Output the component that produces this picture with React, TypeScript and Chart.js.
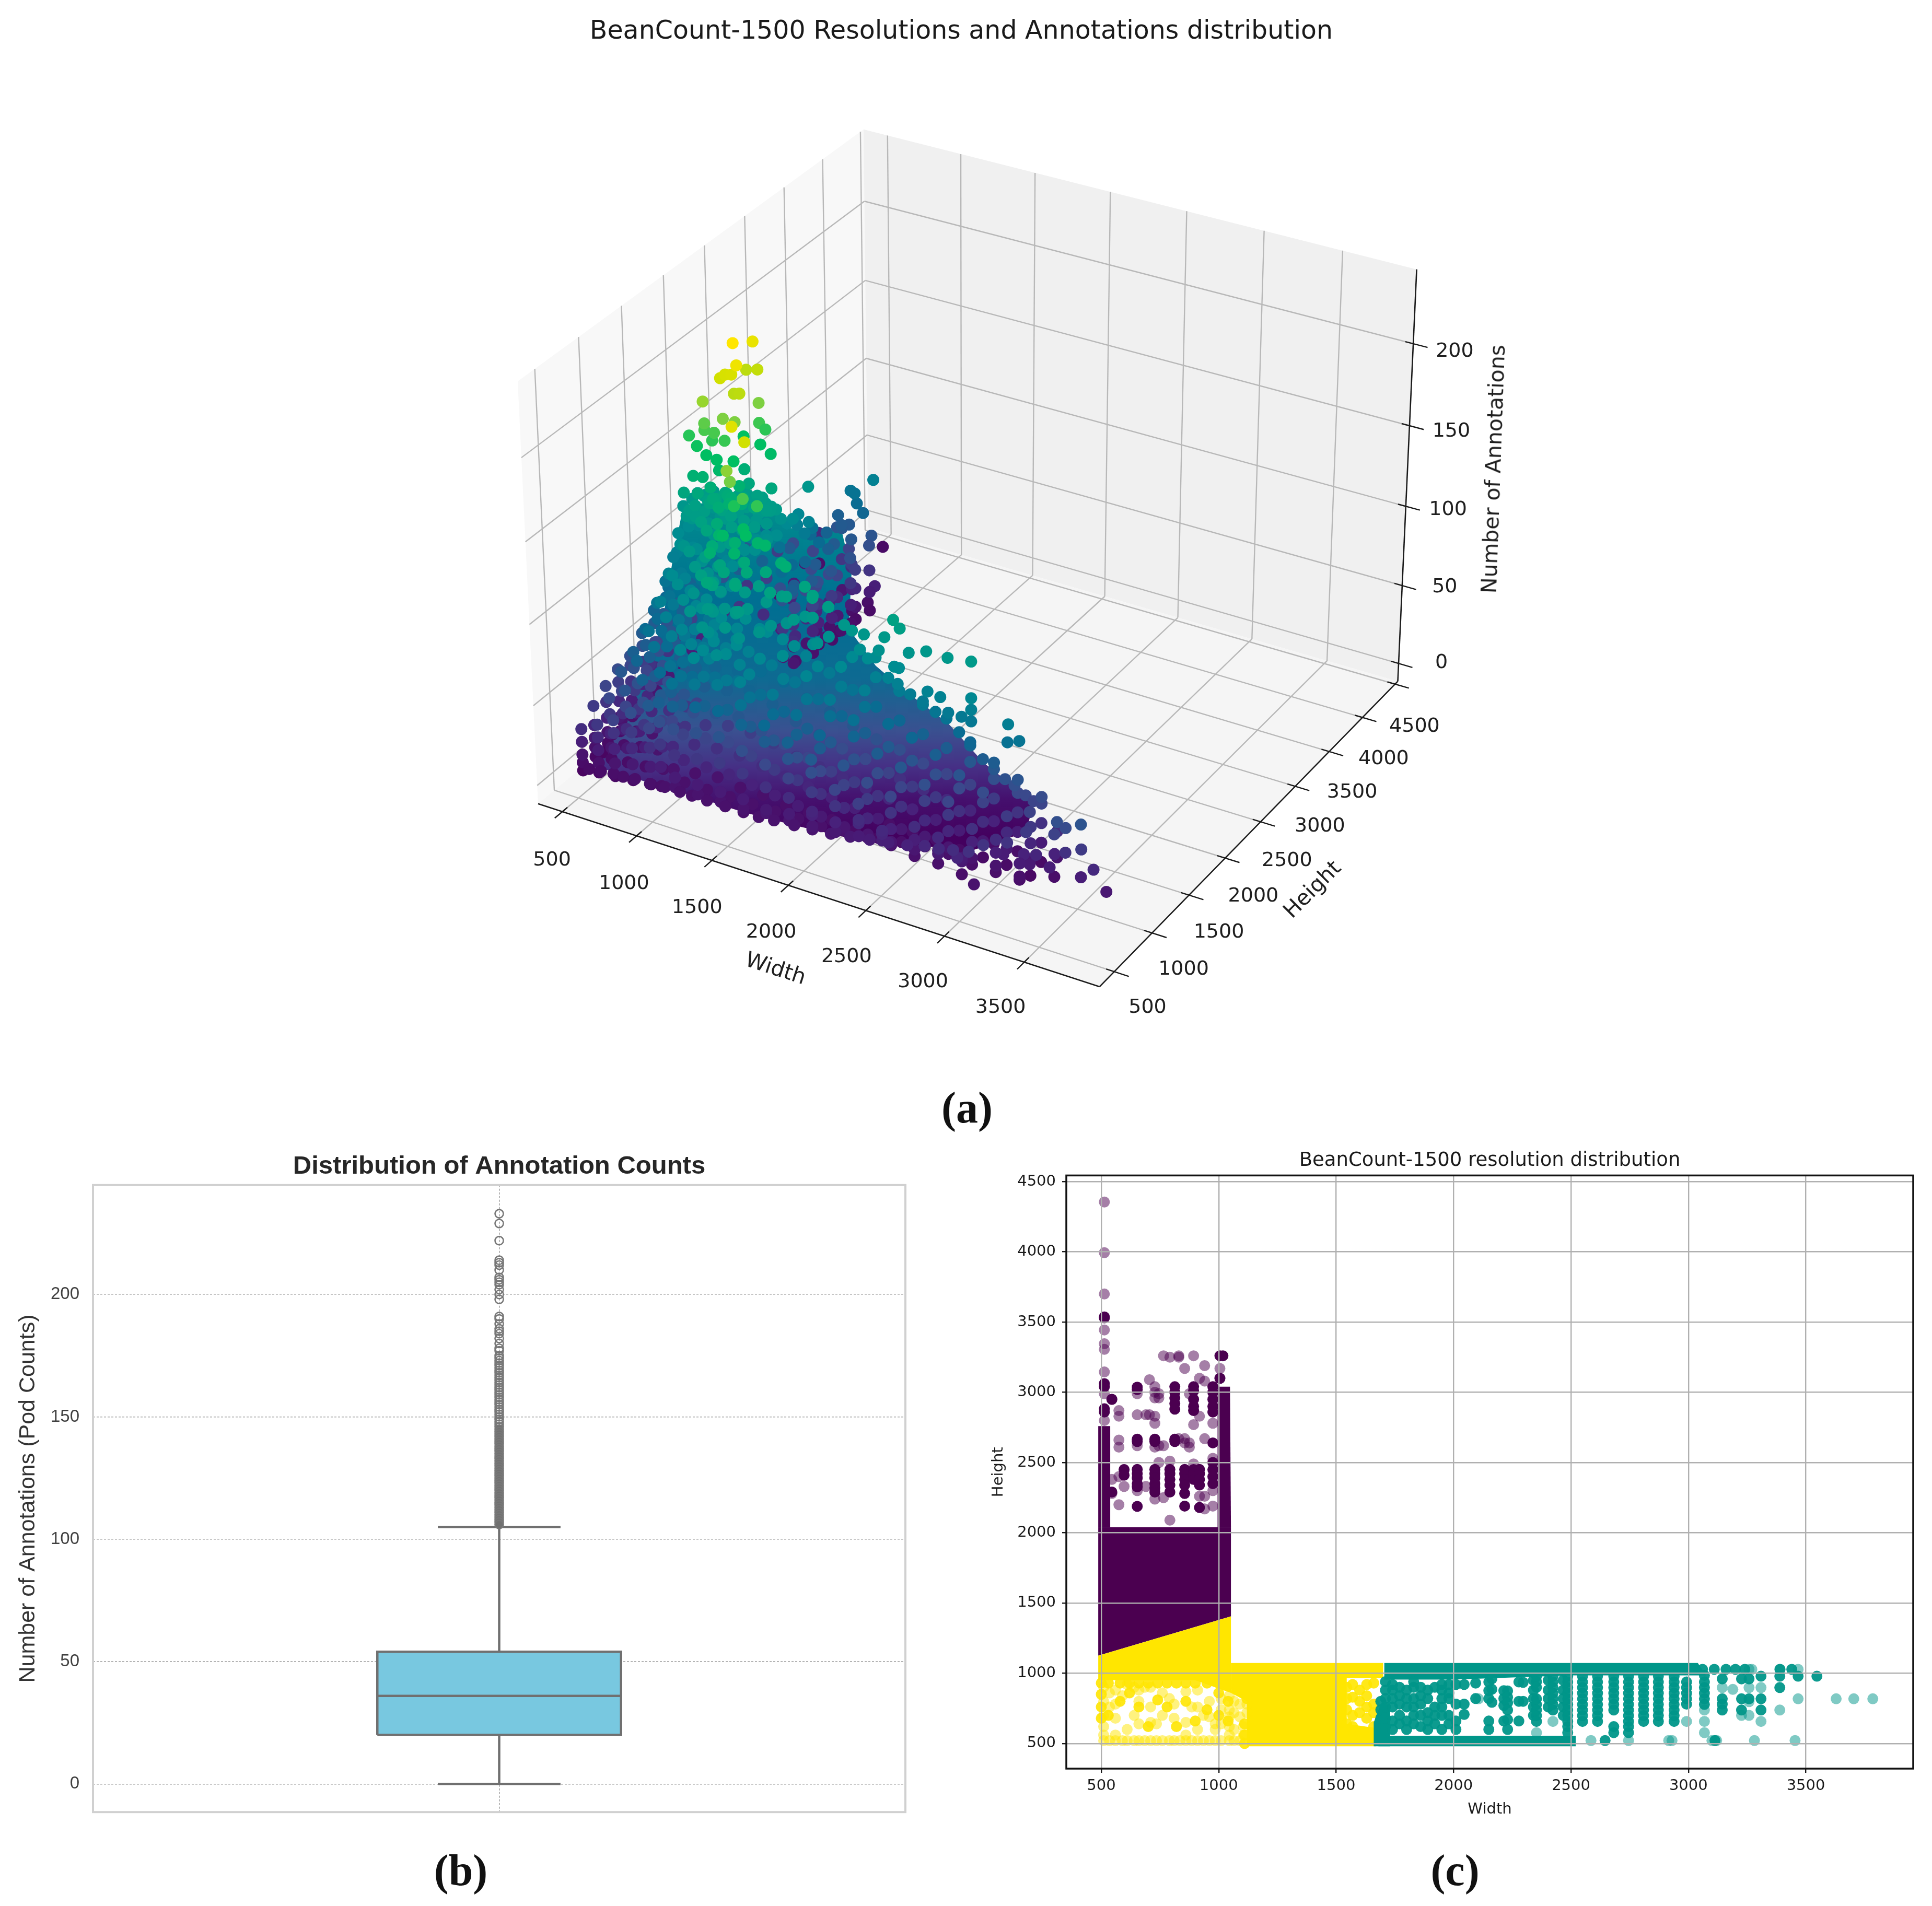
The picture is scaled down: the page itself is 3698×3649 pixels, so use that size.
import React, { useEffect, useRef } from "react";
import { Chart, registerables } from "chart.js";
Chart.register(...registerables);

// ---------- panel (a): tick values and axis limits ----------
const widthTicks = [500, 1000, 1500, 2000, 2500, 3000, 3500];
const heightTicks = [500, 1000, 1500, 2000, 2500, 3000, 3500, 4000, 4500];
const countTicks = [0, 50, 100, 150, 200];
const widthLimits = [335, 3965];
const heightLimits = [308, 4542];
const countLimits = [-11.6, 244.6];

// [width, height, annotation counts...]
const pileLeftWing = [
  [510,550,4,9,14,22,30],[510,700,6,12,18,26,38],[510,850,8,15,24,34,44],[510,1000,9,18,28,40,48],
  [510,1150,12,22,34,44,50],[510,1300,14,26,40,50,58],[510,1450,15,30,46,58,66],[510,1600,18,34,52,68,78],
  [510,1750,20,38,58,76,90],[510,1900,22,42,64,84,100],[510,2020,24,46,70,96,116],
  [510,2300,30,52,76],[510,2600,34,58,86],[510,3000,12,40],[510,3350,18],[510,3540,10,30],
  [620,550,6,12,20,28,36],[620,700,8,15,24,36,46],[620,850,10,20,30,44,56],[620,1000,12,24,38,52,62],
  [620,1150,28,44,60,70],[620,1300,32,50,70,80],[620,1450,56,78,92],[620,1600,62,86,104],
  [620,1750,70,96,114],[620,1900,76,104,122],[620,2020,80,110,120],[620,2300,36,60],[620,2650,40,72],[620,3000,22,48],
  [730,550,7,15,24,34,42],[730,700,9,18,30,44,54],[730,850,12,22,36,52,66],[730,1000,14,28,44,62,78],
  [730,1150,50,72,90],[730,1300,58,82,100],[730,1450,66,92,112],[730,1600,74,104,124],
  [730,1750,82,114,128],[730,1900,90,112,124],[730,2020,92,118],[730,2400,30,64],[730,2750,26,58],[730,3050,20,44],
  [850,550,8,18,28,38,50],[850,700,10,22,36,50,64],[850,850,14,28,44,60,78],[850,1000,32,50,72,90],
  [850,1150,58,82,104],[850,1300,68,94,118],[850,1450,78,106,130],[850,1600,88,116,138],
  [850,1750,94,120,136],[850,1900,98,118,128],[850,2020,100,124],[850,2400,24,50,76],[850,2800,20,46,68],[850,3200,16,36,58],
  [970,550,9,20,32,44,58],[970,700,12,26,42,58,72],[970,850,32,50,70,88],[970,1000,38,60,82,104],
  [970,1150,70,94,118],[970,1300,80,108,134],[970,1450,90,118,142],[970,1600,100,124,142],
  [970,1750,104,122,136],[970,1900,104,116,126],[970,2020,102,122],
  [970,2200,18,36,54,72],[970,2500,14,30,48,66],[970,2800,12,28,46,62],[970,3100,10,24,40,56],
  [1040,550,10,22,36,50,62],[1040,700,14,28,44,62,78],[1040,850,34,54,74,94],[1040,1000,42,64,88,110],
  [1040,1150,74,100,126],[1040,1300,86,114,140],[1040,1450,96,122,146],[1040,1600,104,124,140],
  [1040,1750,106,120,132],[1040,1900,106,116,124],[1040,2020,104,120],
  [1040,2200,16,30,44,62],[1040,2450,12,26,42,58],[1040,2700,10,24,38,54],[1040,2950,10,22,36,52],[1040,3200,8,20,34,50],
  [1000,2300,12,28,46,60],[1000,2600,10,24,36,50],[1000,2850,8,18,30,44],[1020,3050,8,16,28,40],[960,2350,18,32,52,70],[960,2650,16,28,44,58],
];
const pileRightWing = [
  [1150,1040,66,92,118,140],[1300,1040,68,94,120,146,168],[1450,1040,72,98,124,150,172],[1600,1040,70,96,122,142],
  [1750,1040,64,90,114,132],[1900,1040,60,84,106,124],[2050,1040,56,78,98,114],[2200,1040,52,72,90,102],
  [2350,1040,32,50,68,86],[2500,1040,30,46,64,82],[2650,1040,28,44,60,78],[2800,1040,26,42,56,68],
  [2950,1040,10,24,38,50,60],[3100,1040,10,22,34,46,54],[3250,1040,8,20,32,44,48],[3350,1040,14,30],
  [1150,900,36,60,84,108,128],[1300,900,40,62,88,112,134,156],[1450,900,40,66,90,116,138,160],[1600,900,38,62,86,110,130],
  [1750,900,34,56,80,102,118],[1900,900,32,52,74,94,108],[2050,900,30,48,68,86,98],[2200,900,28,46,62,78,88],
  [2350,900,10,26,42,58,72],[2500,900,10,24,38,54,68],[2650,900,10,22,36,50,62],[2800,900,8,20,32,46,54],
  [2950,900,8,18,30,42,48],[3100,900,8,18,28,38],[3250,900,6,16,26,36],[3400,900,10,24],
  [1150,760,12,30,50,72,92,112],[1300,760,14,32,54,76,98,116,132],[1450,760,12,32,56,78,100,120,136],[1600,760,12,30,52,74,96,112],
  [1750,760,10,28,48,68,88,102],[1900,760,10,26,44,62,80,94],[2050,760,10,24,40,58,74,84],[2200,760,8,22,38,52,66,76],
  [2350,760,8,20,34,48,60],[2500,760,10,18,32,44,56],[2650,760,12,18,28,40,50],[2800,760,12,16,26,36,44],
  [2950,760,10,14,24,32],[3100,760,10,14,22,30],[3250,760,10,12,20],
  [1150,630,12,26,42,60,78,94],[1300,630,12,26,44,64,82,98,112],[1450,630,12,26,46,66,84,100,116],[1600,630,12,24,42,60,78,92],
  [1750,630,12,22,38,56,72,84],[1900,630,12,20,36,50,64,76],[2050,630,12,18,32,46,60,68],[2200,630,14,16,28,42,54],
  [2350,630,14,16,26,38,48],[2500,630,16,14,24,34,44],[2650,630,16,12,22,30],[2800,630,18,12,20,28],[2950,630,20,10,18],
  [1150,520,14,20,34,50,64,78],[1300,520,14,20,36,52,68,82,98],[1450,520,14,20,38,54,70,86,104],[1600,520,14,20,36,50,66,78,92],
  [1750,520,16,18,32,46,60,70],[1900,520,16,20,30,42,54,64],[2050,520,17,24,26,38,50,58],[2200,520,18,24,34,44],
  [2350,520,20,28,30,40],[2500,520,22,28,26],
  [1220,1000,100,116,132,150],[1380,1000,104,120,138,158,176],[1520,1000,100,118,136,152],[1240,850,96,112,128,146],[1400,850,98,114,132,150],
  [1300,700,90,106,120,136],[1500,700,92,108,124],[1660,980,110,126,144],[1830,980,102,118,130],
];
// single marks around the pile: spire, back spur, right-hand strays
const pileStrays = [
  [980,1650,233],[946,1950,222],[891,1650,210],[924,1650,213],[966,1650,214],[980,1650,203],[1016,1650,204],[771,1650,193],
  [777,1650,180],[902,1650,186],[980,1650,186],[673,1650,170],[777,1650,176],[841,1650,176],[724,1650,165],[827,1650,171],
  [910,1650,173],[785,1650,161],[854,1650,160],[966,1650,162],[693,1650,146],[757,1650,147],[868,1650,154],[807,1650,142],[626,1650,134],
  [899,1950,204],[974,1950,206],[977,1950,186],[977,1950,174],[1018,1950,171],[871,1950,163],[982,1950,161],[1050,1950,157],
  [871,1950,143],[899,1950,135],[954,1950,129],[1050,1950,136],[1050,1560,225],[1400,1000,210],[1320,1000,217],[1300,1000,184],[1280,1000,190],
  [800,1650,132],[840,1650,136],[880,1650,130],[920,1650,140],[940,1650,128],[760,1650,126],[700,1650,128],[720,1650,136],[660,1650,124],[640,1650,120],
  [1000,1650,148],[1020,1650,140],[880,1950,120],[960,1950,118],[1040,1950,122],
  [1048,3250,90],[891,3250,79],[919,3250,78],[933,3250,72],[975,3250,67],[1031,3250,54],[720,4000,8],[1050,3250,22],[1000,3250,10],
  [802,3250,61],[794,3250,53],[878,3250,57],[1000,2500,114],[1000,2500,92],[930,2500,95],
  [2325,1020,129],[2366,1020,125],[2137,1020,115],[2268,1020,117],[2231,1020,108],[2422,1020,112],[2533,1020,116],[2668,1020,116],
  [2816,1020,118],[2329,1020,101],[2359,1020,101],[2540,1020,92],[2621,1020,91],[2816,1020,96],[2816,1020,89],[2816,1020,82],
  [2755,1020,83],[2671,1020,83],[3048,1020,87],[3044,1020,76],[3118,1020,79],
  [3461,800,50],[3609,800,53],[3515,800,48],[3445,800,42],[3613,800,38],[3515,800,33],[3418,800,21],[3293,800,19],[3690,800,28],
  [3613,800,21],[3771,800,17],[3081,520,13],[2977,520,26],[3128,800,20],[3256,800,24],[3333,800,26],
];
// marks that run along the rim of the dense body
const pileRim = [
  [500,800,4],[500,920,10],[500,1040,14],[500,1170,20],[500,1290,26],[500,1400,34],[500,1490,44],[500,1580,58],[500,1650,72],[500,1720,88],[500,1790,100],[500,1860,114],
  [540,1900,118],[600,1950,120],[660,2000,118],[720,2000,122],[780,2000,120],[840,2000,126],[900,2000,122],[960,2000,126],[1020,2000,122],
  [1000,2150,108],[960,2300,98],[1000,2300,102],[920,2500,88],[970,2500,84],[917,2700,78],[960,2700,70],[880,2950,64],[930,2950,58],[853,3200,56],[900,3200,44],[890,3250,30],
  [1020,2500,40],[1040,2700,24],[1050,2800,12],[1050,2600,16],[1800,1040,128],[1900,1040,124],[2000,1040,116],
  [2100,1040,104],[2150,1040,100],[2280,1040,92],[2340,1040,90],[2420,1040,86],[2500,1040,84],[2580,1040,80],[2730,1040,72],[2800,1040,66],[2880,1040,60],[2950,1040,56],[3020,1040,52],[3080,1040,50],[3150,1040,46],[3200,1040,44],[3220,950,42],
  [3270,800,38],[3200,700,34],[3100,600,34],[3048,520,32],[2950,520,30],[2860,520,28],[2770,520,27],[2660,520,24],[2540,520,22],[2420,520,20],[2295,520,18],[2170,520,16],[2050,520,15],[1932,520,14],[1800,520,13],[1700,520,12],[1600,520,12],[1480,520,12],[1360,520,12],[1260,520,12],[1180,520,12],[1080,520,12],[980,520,11],[880,520,11],[800,520,10],[735,520,10],[650,520,9],[570,520,8],
];
// outline of the dense body of the pile: width, height, count
const pileOutline = [
  [500,700,0],[500,920,8],[500,1170,18],[500,1400,33],[500,1580,57],[500,1720,88],[500,1860,114],[660,2000,116],[994,2000,124],
  [950,2300,95],[917,2700,77],[853,3200,54],[890,3250,26],[1050,2900,9],[2200,1040,97],[2390,1040,87],[2665,1040,75],[2885,1040,58],
  [3080,1040,49],[3200,1040,43],[3270,800,38],[3048,520,32],[2770,520,27],[2295,520,17],[1932,520,14],[1600,520,12],[1180,520,12],[735,520,11],
];

// ---------- panel (b): box plot values ----------
const boxQuartiles = [20, 36, 54];
const boxWhiskers = [0, 105];
const boxFliers = [233,229,222,214,213,212,210,207,206,205,204,202,200,198,191,190,188,186,185,184,182,180,178,177,175,174,173,172,171,170,169,168,167,166,165,164,163,162,161,160,159,158,157,156,155,154,153,152,151,150,149,148,147,146,145,144,143,142,141,140,139,138,137,136,135,134,133,132,131,130,129,128,127,126,125,124,123,122,121,120,119,118,117,116,115,114,113,112,111,110,109,108,107,106];
const boxTicks = [0, 50, 100, 150, 200];

// ---------- panel (c): resolution scatter, [width, heights...] ----------
const scatterXTicks = [500, 1000, 1500, 2000, 2500, 3000, 3500];
const scatterYTicks = [500, 1000, 1500, 2000, 2500, 3000, 3500, 4000, 4500];
const purpleLight = [
  [513,4355,3994,3700,3444,3346,3306,3145,2990,2800],
  [545,2950,2380,2280],
  [575,2870,2830,2660,2610,2400,2200],
  [597,2450,2330],
  [653,2990,2840,2620,2300],
  [690,2840,2330],
  [705,3090,2840],
  [728,3040,3000,2960,2830,2780,2610,2240],
  [745,2990,2960,2620,2500],
  [765,3260,2620,2250],
  [792,3250,2510,2090],
  [830,3250,3260,2670],
  [855,3170,2670,2640],
  [875,2990,2640,2610],
  [893,3260,2770,2490],
  [918,3100,2830,2260],
  [940,3190,3080,2670,2260,2170],
  [975,2780,2530,2300,2190],
  [1005,3170,3100],
];
const purpleDark = [
  [513,3537,3530,3062,3040,2883,2860],
  [545,2950,2290],
  [597,2450,2410],
  [653,3037,3020,2667,2650,2451,2420,2390,2350,2327,2188],
  [728,2667,2650,2451,2420,2390,2350,2320,2290],
  [792,2451,2420,2380,2340,2290],
  [813,3040,3000,2960,2920,2880,2667,2650],
  [855,2451,2420,2380,2340,2280,2190],
  [893,3040,3010,2950,2900,2870,2450,2420,2380],
  [918,2451,2420,2380,2340,2180],
  [975,3040,3000,2950,2900,2860,2640,2500,2450,2400,2350],
  [1005,3260,3100],
  [1018,3260],
];
const yellowLight = [
  [510,900,800,700,620,560,520],[535,860,760,520],[560,880,780,680,560,520],[590,840,520],[610,920,600,520],[640,900,700,520],
  [660,880,800,640,520],[685,900,520],[710,900,760,650,520],[735,640,520],[760,860,700,520],[790,820,520],[810,780,680,520],[835,520],
  [860,870,650,560,520],[885,760,520],[910,880,760,600,520],[935,700,520],[960,800,690,520],[985,640,600,520],[1010,820,740,640,520],
  [1045,840,740,690,620,560,520],[1065,800,720,600,520],[1090,780,690,520],[1105,620,560],[1120,780,720],
];
const yellowStrong = [
  [500,930,850,760,680],[530,930,700],[580,930,800],[620,930,860],[660,930,760],[700,930,620],[740,930,810],[780,930,760],[820,930,620],[860,930,800],
  [900,930,660],[950,930,740],[1000,930,860,700],[1040,920,800,660],[1110,640,560,500],[1120,820],
  [1545,900,820,740,640],[1570,920,830,700,620],[1600,880,800,720],[1630,920,840,760,680],[1660,930,780,720,620],
];
const tealDense = [
  [1690,620,680,740,800],[1710,620,680,760,820,880,940],[1740,600,660,760,820,880,920],[1770,640,700,780,840,900],[1800,600,660,760,820,880],
  [1830,640,700,760,820,900,940],[1860,620,700,780,840,900],[1890,600,660,720,820,880],[1920,640,700,760,900],[1950,600,700,760,820,880,920],
  [1980,640,700,820,860,920],[2010,600,660,780,920],[2045,707,780,920],[2094,820,930],
  [2150,938,876,820,660,600],[2163,960,886,793],[2214,876,820,770,660],[2230,874,830,790,738,670,600],[2278,938,800,660],
  [2296,935,800],[2340,950,880,820,760,700],[2353,979,940,900,818,778,738,698,657],[2403,950,880,820,760],
  [2423,979,938,898,858,818,778,738],[2467,950,880,820,760,700],[2486,979,938,898,858,818,778,738,698,657,620,577],
  [2549,979,938,898,858,818,778,738,698,657],[2613,979,938,898,858,818,778,738,698,657],[2682,979,938,898,858,818,778,738,620,577],
  [2745,979,938,898,858,818,778,738,698,657,620,577],[2809,979,938,898,858,818,778,738,698,657],[2872,979,938,898,858,818,778,738,698,657],
  [2939,979,938,898,858,818,778,738,698,657],[2992,938,898,858,818,780],[3068,985,938,898,858,818,778],
  [3144,960,818,780,738],[3226,960,818,738],[3258,960,818],[3309,979,818,738],[3389,979,898],[3467,979],[3547,979],
  [2645,521],[3113,521],[3060,1028],[3110,1028],[3160,1028],[3200,1028],[3240,1028],[3390,1028],[3440,1028],
];
const tealLight = [
  [2106,818],[2353,577],[2423,657],[2745,521],[2992,657],[3068,738,657,577],[3144,898],[3189,885],[3226,700],[3258,1028,898,798,700],
  [3309,898,657],[3389,1028,738],[3467,1028,818],[3629,818],[3704,818],[3785,818],[2585,521],[2916,521],[2930,521],[3100,521],[3120,521],[3281,521],[3454,521],[3270,1028],
];
const purpleBlock = [[487,1125],[487,2040],[1052,2040],[1052,1405]];
const purpleLeftColumn = [[487,2040],[487,2760],[538,2760],[538,2040]];
const purpleRightColumn = [[995,2040],[995,3040],[1048,3040],[1052,2040]];
const yellowWedge = [[487,1125],[1052,1405],[1052,860],[900,950],[487,950]];
const yellowBlock = [[1052,1073],[1700,1073],[1700,965],[1545,965],[1545,640],[1670,610],[1670,480],[1120,480],[1120,800],[1052,860]];
const tealTopBand = [[1705,1073],[3040,1073],[3075,985],[2500,985],[2000,955],[1705,955]];
const tealBottomBand = [[1680,555],[2520,555],[2520,480],[1680,480]];
const tealLeftBlock = [[1660,480],[1660,650],[1690,780],[1730,780],[1730,480]];

// ---------- palette of the picture ----------
const paletteStops: [number, string][] = [
  [0, "#4a005c"], [0.1, "#48207a"], [0.2, "#3a4a8c"], [0.3, "#0a6a92"], [0.42, "#008a92"],
  [0.55, "#00a084"], [0.7, "#00c060"], [0.8, "#80d040"], [0.9, "#d0e000"], [1, "#ffe600"],
];
function hexRgb(h: string) {
  return [1, 3, 5].map((i) => parseInt(h.slice(i, i + 2), 16));
}
function colorOf(n: number) {
  const t = Math.max(0, Math.min(1, n / 233));
  for (let i = 1; i < paletteStops.length; i++) {
    if (t <= paletteStops[i][0]) {
      const [t0, c0] = paletteStops[i - 1];
      const [t1, c1] = paletteStops[i];
      const f = (t - t0) / (t1 - t0);
      const a = hexRgb(c0), b = hexRgb(c1);
      return `rgb(${a.map((v, k) => Math.round(v + (b[k] - v) * f)).join(",")})`;
    }
  }
  return paletteStops[paletteStops.length - 1][1];
}

// ---------- 3D view ----------
const boxSize = [1.19, 1.19, 0.893];
const camU = [0.866, 0.5, 0];
const camV = [-0.25, 0.433, 0.866];
const camW = [0.433, -0.75, 0.5];
function relative(w: number, h: number, n: number) {
  return [
    ((w - widthLimits[0]) / (widthLimits[1] - widthLimits[0]) - 0.5) * boxSize[0],
    ((h - heightLimits[0]) / (heightLimits[1] - heightLimits[0]) - 0.5) * boxSize[1],
    ((n - countLimits[0]) / (countLimits[1] - countLimits[0]) - 0.5) * boxSize[2],
  ];
}
const dot = (a: number[], b: number[]) => a[0] * b[0] + a[1] * b[1] + a[2] * b[2];
function project(w: number, h: number, n: number) {
  const d = relative(w, h, n);
  const depth = 10 - dot(d, camW);
  return { x: 1868 + (10410 * dot(d, camU)) / depth, y: 1029 - (10440 * dot(d, camV)) / depth };
}
const nearness = (w: number, h: number, n: number) => dot(relative(w, h, n), camW);

const [wA, wB] = widthLimits;
const [hA, hB] = heightLimits;
const [nA, nB] = countLimits;
const seg = (a: number[], b: number[]) => [project(a[0], a[1], a[2]), project(b[0], b[1], b[2])];
const lineDs = (data: any[], color: string, width: number) => ({
  data, showLine: true, borderColor: color, borderWidth: width, pointRadius: 0, clip: false as any, fill: false,
});
const paneDs = (c: number[][], color: string) => ({
  data: c.map((p) => project(p[0], p[1], p[2])), showLine: true, borderWidth: 0, pointRadius: 0,
  fill: "shape" as any, backgroundColor: color, clip: false as any,
});

function frame(color: string, width: number) {
  return {
    id: "frame",
    afterDraw(chart: any) {
      const { ctx, chartArea: a } = chart;
      ctx.save();
      ctx.strokeStyle = color;
      ctx.lineWidth = width;
      ctx.strokeRect(a.left, a.top, a.right - a.left, a.bottom - a.top);
      ctx.restore();
    },
  };
}

function buildPile() {
  const pts: { w: number; h: number; n: number }[] = [];
  for (const row of [...pileLeftWing, ...pileRightWing, ...pileStrays, ...pileRim]) {
    for (let i = 2; i < row.length; i++) pts.push({ w: row[0], h: row[1], n: row[i] });
  }
  pts.sort((a, b) => nearness(a.w, a.h, a.n) - nearness(b.w, b.h, b.n));
  return pts;
}

// Chart.js paints the first dataset last, so each list is given back to front and then reversed.
function makeA(cv: HTMLCanvasElement) {
  const ctx = cv.getContext("2d")!;
  const grad = ctx.createLinearGradient(0, 940, 0, 1640);
  grad.addColorStop(0, "#009a88");
  grad.addColorStop((1020 - 940) / 700, "#00848f");
  grad.addColorStop((1150 - 940) / 700, "#006f92");
  grad.addColorStop((1300 - 940) / 700, "#0e6a92");
  grad.addColorStop((1400 - 940) / 700, "#3a5090");
  grad.addColorStop((1470 - 940) / 700, "#462f85");
  grad.addColorStop((1530 - 940) / 700, "#45106e");
  grad.addColorStop((1600 - 940) / 700, "#44005f");
  grad.addColorStop(1, "#44005f");

  const datasets: any[] = [
    paneDs([[wA, hA, nA], [wA, hB, nA], [wA, hB, nB], [wA, hA, nB]], "#f8f8f8"),
    paneDs([[wA, hB, nA], [wB, hB, nA], [wB, hB, nB], [wA, hB, nB]], "#f0f0f0"),
    paneDs([[wA, hA, nA], [wB, hA, nA], [wB, hB, nA], [wA, hB, nA]], "#f5f5f5"),
  ];
  const gridC = "#b8b8b8";
  for (const w of widthTicks) {
    datasets.push(lineDs(seg([w, hA, nA], [w, hB, nA]), gridC, 2.4));
    datasets.push(lineDs(seg([w, hB, nA], [w, hB, nB]), gridC, 2.4));
  }
  for (const h of heightTicks) {
    datasets.push(lineDs(seg([wA, h, nA], [wB, h, nA]), gridC, 2.4));
    datasets.push(lineDs(seg([wA, h, nA], [wA, h, nB]), gridC, 2.4));
  }
  for (const n of countTicks) {
    datasets.push(lineDs(seg([wA, hA, n], [wA, hB, n]), gridC, 2.4));
    datasets.push(lineDs(seg([wA, hB, n], [wB, hB, n]), gridC, 2.4));
  }
  const axisC = "#1a1a1a";
  datasets.push(lineDs(seg([wA, hA, nA], [wB, hA, nA]), axisC, 2.6));
  datasets.push(lineDs(seg([wB, hA, nA], [wB, hB, nA]), axisC, 2.6));
  datasets.push(lineDs(seg([wB, hB, nA], [wB, hB, nB]), axisC, 2.6));
  for (const w of widthTicks) datasets.push(lineDs(seg([w, hA - 90, nA], [w, hA + 60, nA]), axisC, 2.4));
  for (const h of heightTicks) datasets.push(lineDs(seg([wB - 50, h, nA], [wB + 90, h, nA]), axisC, 2.4));
  for (const n of countTicks) datasets.push(lineDs(seg([wB - 50, hB, n], [wB + 90, hB, n]), axisC, 2.4));

  datasets.push({
    data: pileOutline.map((p) => project(p[0], p[1], p[2])),
    showLine: true, borderWidth: 0, pointRadius: 0, fill: "shape", backgroundColor: grad, clip: false,
  });
  const pile = buildPile();
  datasets.push({
    data: pile.map((p) => project(p.w, p.h, p.n)),
    showLine: false,
    pointRadius: 11.5,
    pointBorderWidth: 0,
    pointBackgroundColor: pile.map((p) => colorOf(p.n)),
    clip: false,
  });
  datasets.reverse();
  return new Chart(cv, {
    type: "scatter",
    data: { datasets },
    options: {
      animation: false, responsive: false, devicePixelRatio: 1,
      layout: { padding: 0 },
      plugins: { legend: { display: false }, tooltip: { enabled: false } },
      scales: {
        x: { type: "linear", min: 0, max: cv.width, display: false },
        y: { type: "linear", min: 0, max: cv.height, reverse: true, display: false },
      },
    },
  } as any);
}

function makeB(cv: HTMLCanvasElement) {
  const lineC = "#707070";
  const [q1, med, q3] = boxQuartiles;
  const [lo, hi] = boxWhiskers;
  const halfBox = 0.15, halfCap = 0.0755;
  const seg2 = (data: any[]) => ({ data, showLine: true, borderColor: lineC, borderWidth: 4.5, pointRadius: 0 });
  const datasets: any[] = [
    seg2([{ x: 0, y: lo }, { x: 0, y: q1 }]),
    seg2([{ x: 0, y: q3 }, { x: 0, y: hi }]),
    seg2([{ x: -halfCap, y: lo }, { x: halfCap, y: lo }]),
    seg2([{ x: -halfCap, y: hi }, { x: halfCap, y: hi }]),
    {
      data: [{ x: -halfBox, y: q1 }, { x: halfBox, y: q1 }, { x: halfBox, y: q3 }, { x: -halfBox, y: q3 }, { x: -halfBox, y: q1 }],
      showLine: true, fill: "shape", backgroundColor: "#78c8e0", borderColor: lineC, borderWidth: 4.5, pointRadius: 0,
    },
    seg2([{ x: -halfBox, y: med }, { x: halfBox, y: med }]),
    {
      data: boxFliers.map((v) => ({ x: 0, y: v })),
      pointRadius: 8, pointBorderWidth: 2.6, pointBorderColor: "#777777",
      pointBackgroundColor: boxFliers.map((v) => (v < 146 ? "#707070" : "rgba(0,0,0,0)")),
      showLine: false,
    },
  ];
  datasets.reverse();
  return new Chart(cv, {
    type: "scatter",
    data: { datasets },
    options: {
      animation: false, responsive: false, devicePixelRatio: 1,
      layout: { padding: { right: 57 } },
      plugins: {
        legend: { display: false }, tooltip: { enabled: false },
        title: {
          display: true, text: "Distribution of Annotation Counts", fullSize: false, color: "#262626",
          font: { family: "'Liberation Sans'", size: 49, weight: "bold" }, padding: { top: 24, bottom: 6 },
        },
      },
      scales: {
        x: {
          type: "linear", min: -0.5, max: 0.5,
          afterBuildTicks(s: any) { s.ticks = [{ value: 0 }]; },
          afterFit(s: any) { s.height = 18; },
          ticks: { display: false },
          border: { display: false, dash: [4, 3] },
          grid: { color: "#a0a0a0", lineWidth: 1.6, drawTicks: false },
        },
        y: {
          type: "linear", min: -11.5, max: 244.7,
          afterBuildTicks(s: any) { s.ticks = boxTicks.map((value) => ({ value })); },
          afterFit(s: any) { s.width = 178; },
          ticks: { color: "#404040", font: { family: "'Liberation Sans'", size: 33 }, padding: 26 },
          border: { display: false, dash: [4, 3] },
          grid: { color: "#a0a0a0", lineWidth: 1.6, drawTicks: false },
          title: {
            display: true, text: "Number of Annotations (Pod Counts)", color: "#333333",
            font: { family: "'Liberation Sans'", size: 43 }, padding: { top: 28, bottom: 0 },
          },
        },
      },
    },
    plugins: [frame("#d0d0d0", 4)],
  } as any);
}

const expand = (cols: number[][]) => {
  const out: { x: number; y: number }[] = [];
  for (const c of cols) for (let i = 1; i < c.length; i++) out.push({ x: c[0], y: c[i] });
  return out;
};
const PURPLE = "#4b0050", YELLOW = "#ffe600", TEAL = "#009689";
const alpha = (hex: string, a: number) => {
  const [r, g, b] = hexRgb(hex);
  return `rgba(${r},${g},${b},${a})`;
};
const polyDs = (p: number[][], color: string) => ({
  data: p.map(([x, y]) => ({ x, y })), showLine: true, fill: "shape", backgroundColor: color, borderWidth: 0, pointRadius: 0,
});
const dotsDs = (cols: number[][], color: string, a: number) => ({
  data: expand(cols), showLine: false, pointRadius: 10.5, pointBorderWidth: 0, pointBackgroundColor: alpha(color, a), clip: false,
});

function makeC(cv: HTMLCanvasElement) {
  const font = { family: "'DejaVu Sans'", size: 29 };
  const datasets: any[] = [
    polyDs(purpleBlock, PURPLE), polyDs(purpleLeftColumn, PURPLE), polyDs(purpleRightColumn, PURPLE),
    dotsDs(purpleLight, PURPLE, 0.5), dotsDs(purpleDark, PURPLE, 1),
    polyDs(yellowWedge, YELLOW), polyDs(yellowBlock, YELLOW),
    dotsDs(yellowLight, YELLOW, 0.5), dotsDs(yellowStrong, YELLOW, 0.9),
    polyDs(tealTopBand, TEAL), polyDs(tealBottomBand, TEAL), polyDs(tealLeftBlock, TEAL),
    dotsDs(tealLight, TEAL, 0.5), dotsDs(tealDense, TEAL, 0.95),
  ];
  datasets.reverse();
  const plain = (v: any) => String(v);
  return new Chart(cv, {
    type: "scatter",
    data: { datasets },
    options: {
      animation: false, responsive: false, devicePixelRatio: 1,
      layout: { padding: { right: 36 } },
      plugins: {
        legend: { display: false }, tooltip: { enabled: false },
        title: {
          display: true, text: "BeanCount-1500 resolution distribution", fullSize: false, color: "#1a1a1a",
          font: { family: "'DejaVu Sans'", size: 37, weight: "normal" }, padding: { top: 20, bottom: 6 },
        },
      },
      scales: {
        x: {
          type: "linear", min: 351, max: 3957,
          afterBuildTicks(s: any) { s.ticks = scatterXTicks.map((value) => ({ value })); },
          afterFit(s: any) { s.height = 114; },
          ticks: { color: "#1a1a1a", font, padding: 8, maxRotation: 0, autoSkip: false, callback: plain },
          border: { display: false },
          grid: { z: 1, color: "#b0b0b0", lineWidth: 2.4, tickLength: 8, tickColor: "#1a1a1a", tickWidth: 2.4 },
          title: { display: true, text: "Width", color: "#1a1a1a", font, padding: { top: 0, bottom: 18 } },
        },
        y: {
          type: "linear", min: 321, max: 4544,
          afterBuildTicks(s: any) { s.ticks = scatterYTicks.map((value) => ({ value })); },
          afterFit(s: any) { s.width = 171; },
          ticks: { color: "#1a1a1a", font, padding: 12, autoSkip: false, callback: plain },
          border: { display: false },
          grid: { z: 1, color: "#b0b0b0", lineWidth: 2.4, tickLength: 8, tickColor: "#1a1a1a", tickWidth: 2.4 },
          title: { display: true, text: "Height", color: "#1a1a1a", font, padding: { top: 24, bottom: 0 } },
        },
      },
    },
    plugins: [frame("#111111", 3.5)],
  } as any);
}

// ---------- text of the 3D panel ----------
const lerp = (a: number, b: number, t: number) => a + (b - a) * t;
function labels3d() {
  const out: { text: string; x: number; y: number; rot?: number; big?: boolean }[] = [];
  widthTicks.forEach((w) => {
    const p = project(w, hA, nA), t = (w - 500) / 3000;
    out.push({ text: String(w), x: p.x + lerp(-15, -46, t), y: p.y + lerp(84, 75, t) });
  });
  heightTicks.forEach((h) => {
    const p = project(wB, h, nA), t = (h - 500) / 4000;
    out.push({ text: String(h), x: p.x + lerp(62, 32, t), y: p.y + lerp(56, 75, t) });
  });
  countTicks.forEach((n) => {
    const p = project(wB, hB, n), t = n / 200;
    out.push({ text: String(n), x: p.x + lerp(77, 74, t), y: p.y + lerp(-7, 16, t) });
  });
  out.push({ text: "Width", x: 1485, y: 1853, rot: 18, big: true });
  out.push({ text: "Height", x: 2511, y: 1702, rot: -45, big: true });
  out.push({ text: "Number of Annotations", x: 2858, y: 898, rot: -88, big: true });
  return out;
}

const abs = (x: number, y: number, rot = 0): React.CSSProperties => ({
  position: "absolute", left: x, top: y, transform: `translate(-50%,-50%) rotate(${rot}deg)`, whiteSpace: "nowrap",
});

export default function App() {
  const a = useRef<HTMLCanvasElement>(null);
  const b = useRef<HTMLCanvasElement>(null);
  const c = useRef<HTMLCanvasElement>(null);
  useEffect(() => {
    document.body.style.margin = "0";
    const charts = [makeA(a.current!), makeB(b.current!), makeC(c.current!)];
    return () => charts.forEach((ch) => ch.destroy());
  }, []);
  const serif: React.CSSProperties = { fontFamily: "'Liberation Serif'", fontSize: 84, fontWeight: 700, color: "#111" };
  const dejavu: React.CSSProperties = { fontFamily: "'DejaVu Sans'", fontSize: 38, color: "#1f1f1f" };
  return (
    <div style={{ position: "absolute", left: 0, top: 0, width: 3698, height: 3649, overflow: "hidden", background: "#fff" }}>
      <canvas ref={a} width={3698} height={2060} style={{ position: "absolute", left: 0, top: 0 }} />
      <canvas ref={b} width={1790} height={1335} style={{ position: "absolute", left: 0, top: 2180 }} />
      <canvas ref={c} width={1828} height={1320} style={{ position: "absolute", left: 1870, top: 2180 }} />
      <div style={{ ...abs(1840, 57), ...dejavu, fontSize: 49, color: "#1a1a1a" }}>BeanCount-1500 Resolutions and Annotations distribution</div>
      {labels3d().map((l, i) => (
        <div key={i} style={{ ...abs(l.x, l.y, l.rot ?? 0), ...dejavu, fontSize: l.big ? 41 : 38 }}>{l.text}</div>
      ))}
      <div style={{ ...abs(1851, 2120), ...serif }}>(a)</div>
      <div style={{ ...abs(882, 3580), ...serif }}>(b)</div>
      <div style={{ ...abs(2785, 3580), ...serif }}>(c)</div>
    </div>
  );
}
